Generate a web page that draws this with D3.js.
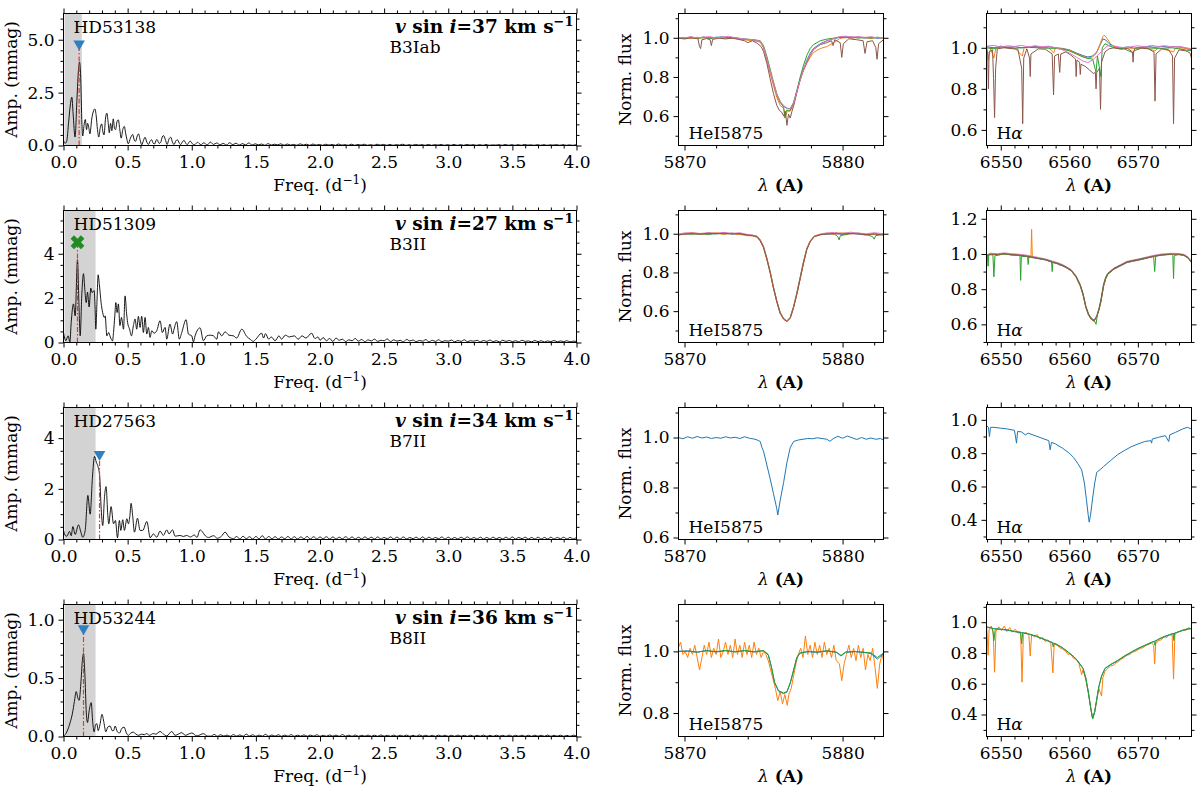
<!DOCTYPE html>
<html>
<head>
<meta charset="utf-8">
<script src="https://cdn.jsdelivr.net/npm/d3@7"></script>
<style>
body { margin: 0; background: #fff; }
svg text { font-family: "DejaVu Serif", serif; font-size: 17px; fill: #000; }
</style>
</head>
<body>
<script>
// ---------------- periodograms: [freq (1/d), amplitude (mmag)] ----------------
const pg53138 = [
  [0.000,0.25],[0.012,0.10],[0.025,0.20],[0.040,1.10],[0.055,2.00],[0.065,2.29],[0.075,1.50],[0.090,0.40],
  [0.105,2.20],[0.117,3.60],[0.125,3.94],[0.133,3.40],[0.144,1.00],[0.150,0.45],[0.160,0.95],[0.170,1.23],
  [0.180,0.75],[0.188,1.05],[0.197,0.85],[0.206,0.55],[0.220,1.25],[0.235,1.65],[0.245,1.73],[0.255,1.40],
  [0.265,0.75],[0.275,0.40],[0.287,0.85],[0.298,1.02],[0.307,0.65],[0.316,0.50],[0.328,1.30],[0.338,1.53],
  [0.348,1.10],[0.357,0.60],[0.367,1.05],[0.377,0.70],[0.388,1.26],[0.398,0.80],[0.406,0.75],[0.418,1.15],
  [0.428,1.21],[0.438,0.80],[0.450,0.35],[0.462,0.75],[0.474,0.90],[0.484,0.60],[0.494,0.30],[0.505,0.08],
  [0.522,0.35],[0.540,0.52],[0.552,0.25],[0.562,0.20],[0.575,0.45],[0.585,0.55],[0.598,0.25],[0.610,0.03],
  [0.624,0.25],[0.636,0.39],[0.650,0.15],[0.662,0.05],[0.675,0.20],[0.688,0.27],[0.700,0.10],[0.712,0.08],
  [0.722,0.25],[0.730,0.28],[0.745,0.10],[0.758,0.15],[0.770,0.40],[0.780,0.47],[0.793,0.30],[0.808,0.05],
  [0.822,0.30],[0.836,0.39],[0.850,0.15],[0.862,0.05],[0.876,0.22],[0.888,0.27],[0.902,0.12],[0.914,0.04],
  [0.928,0.18],[0.940,0.24],[0.954,0.10],[0.966,0.04],[0.978,0.16],[0.990,0.20],[1.005,0.08]
];
// tail amplitudes sampled every 0.025 1/d from 1.02
const tail53138 = [
  0.03,0.15,0.04,0.13,0.02,0.16,0.05,0.12,0.03,0.10,0.02,0.13,0.04,0.11,0.02,0.09,0.03,0.12,0.02,0.08,
  0.03,0.07,0.01,0.09,0.02,0.06,0.03,0.08,0.01,0.07,0.02,0.05,0.01,0.08,0.02,0.06,0.01,0.07,0.02,0.05,
  0.01,0.06,0.02,0.05,0.01,0.07,0.02,0.04,0.01,0.06,0.01,0.05,0.02,0.06,0.01,0.04,0.01,0.06,0.02,0.05,
  0.01,0.05,0.01,0.04,0.02,0.06,0.01,0.04,0.01,0.05,0.02,0.04,0.01,0.05,0.01,0.04,0.02,0.05,0.01,0.04,
  0.01,0.05,0.01,0.04,0.01,0.05,0.02,0.04,0.01,0.04,0.01,0.05,0.01,0.03,0.02,0.04,0.01,0.05,0.01,0.04,
  0.01,0.04,0.01,0.05,0.02,0.03,0.01,0.04,0.01,0.04,0.01,0.03,0.02,0.04,0.01,0.04,0.01,0.03,0.01,0.04
];

const pg51309 = [
  [0.000,0.45],[0.018,0.08],[0.036,0.30],[0.050,0.03],[0.060,0.90],[0.078,1.74],[0.091,1.20],[0.109,3.73],
  [0.120,1.80],[0.130,0.30],[0.143,2.20],[0.156,3.10],[0.166,2.40],[0.177,1.80],[0.187,2.27],[0.200,1.60],
  [0.213,2.45],[0.223,2.25],[0.239,2.34],[0.246,1.60],[0.252,0.60],[0.262,2.00],[0.270,3.05],[0.280,2.60],
  [0.293,1.80],[0.305,1.36],[0.318,1.13],[0.325,1.20],[0.338,0.30],[0.352,0.45],[0.365,0.25],[0.382,0.07],
  [0.390,0.45],[0.400,1.20],[0.408,1.80],[0.418,1.35],[0.428,1.74],[0.440,0.76],[0.452,1.13],[0.468,0.60],
  [0.480,2.10],[0.492,1.30],[0.500,0.90],[0.515,0.60],[0.530,0.30],[0.545,0.76],[0.558,1.06],[0.571,0.60],
  [0.584,1.18],[0.597,0.68],[0.610,1.18],[0.623,0.45],[0.636,1.13],[0.649,0.38],[0.662,0.68],[0.675,0.23],
  [0.688,0.53],[0.706,0.42],[0.727,0.53],[0.753,0.98],[0.771,0.45],[0.792,0.68],[0.805,0.15],[0.830,0.83],
  [0.851,0.38],[0.862,0.60],[0.883,0.94],[0.903,0.15],[0.922,0.45],[0.956,1.03],[0.974,0.38],[1.000,0.30],
  [1.013,0.03],[1.026,0.30],[1.065,0.66],[1.091,0.08],[1.117,0.30],[1.143,0.33],[1.170,0.30],[1.195,0.15],
  [1.208,0.48],[1.234,0.30],[1.260,0.48],[1.290,0.33],[1.325,0.30],[1.350,0.20],[1.390,0.60],[1.429,0.27],
  [1.455,0.15],[1.480,0.05],[1.500,0.15],[1.545,0.42],[1.560,0.20],[1.575,0.40],[1.600,0.15],[1.620,0.25],
  [1.650,0.08],[1.680,0.30],[1.700,0.15],[1.730,0.33],[1.760,0.25],[1.800,0.30],[1.830,0.15],[1.860,0.30],
  [1.890,0.20],[1.935,0.42],[1.960,0.18],[1.985,0.25]
];
const tail51309 = [
  0.10,0.22,0.08,0.18,0.05,0.20,0.10,0.15,0.04,0.12,0.08,0.18,0.06,0.14,0.03,0.12,0.07,0.15,0.05,0.10,
  0.08,0.16,0.04,0.12,0.06,0.10,0.03,0.14,0.07,0.11,0.04,0.09,0.06,0.13,0.03,0.10,0.05,0.12,0.04,0.08,
  0.06,0.11,0.03,0.09,0.05,0.12,0.04,0.08,0.06,0.10,0.03,0.09,0.05,0.11,0.04,0.08,0.03,0.10,0.05,0.09,
  0.04,0.08,0.03,0.10,0.05,0.07,0.03,0.09,0.04,0.08,0.02,0.07,0.04,0.09,0.03,0.07,0.04,0.08,0.03,0.06,0.05
];

const pg27563 = [
  [0.000,0.36],[0.015,0.15],[0.026,0.13],[0.047,0.32],[0.060,0.15],[0.073,0.51],[0.091,0.20],[0.117,0.58],
  [0.135,0.30],[0.150,0.09],[0.169,0.35],[0.190,1.74],[0.208,1.00],[0.225,2.40],[0.242,3.28],[0.256,3.05],
  [0.270,2.86],[0.282,2.50],[0.294,1.20],[0.306,0.55],[0.320,1.70],[0.332,2.09],[0.345,1.00],[0.353,0.62],
  [0.371,1.30],[0.390,0.62],[0.405,0.75],[0.421,0.07],[0.436,0.75],[0.447,0.36],[0.462,0.78],[0.475,0.36],
  [0.494,0.82],[0.506,0.62],[0.517,0.90],[0.527,1.43],[0.540,0.90],[0.553,0.29],[0.577,0.84],[0.597,0.36],
  [0.618,0.36],[0.650,0.71],[0.676,0.07],[0.701,0.22],[0.727,0.09],[0.753,0.33],[0.779,0.16],[0.805,0.38],
  [0.823,0.22],[0.850,0.38],[0.870,0.13],[0.909,0.16],[0.935,0.12],[0.960,0.16],[0.990,0.10],[1.020,0.18],
  [1.040,0.08],[1.065,0.38],[1.085,0.29],[1.100,0.18],[1.130,0.08],[1.170,0.15],[1.200,0.05],[1.230,0.12],
  [1.260,0.29],[1.290,0.10],[1.310,0.05]
];
const tail27563 = [
  0.03,0.12,0.02,0.13,0.03,0.11,0.02,0.12,0.03,0.15,0.02,0.12,0.03,0.11,0.02,0.10,0.03,0.12,0.02,0.11,
  0.02,0.10,0.03,0.12,0.02,0.11,0.02,0.10,0.03,0.11,0.02,0.10,0.02,0.09,0.03,0.11,0.02,0.10,0.02,0.09,
  0.02,0.10,0.03,0.09,0.02,0.10,0.02,0.08,0.03,0.10,0.02,0.09,0.02,0.10,0.02,0.08,0.03,0.09,0.02,0.10,
  0.02,0.09,0.02,0.08,0.03,0.10,0.02,0.09,0.02,0.08,0.02,0.09,0.03,0.10,0.02,0.08,0.02,0.09,0.02,0.08,
  0.02,0.09,0.03,0.08,0.02,0.09,0.02,0.10,0.02,0.08,0.03,0.09,0.02,0.08,0.02,0.09,0.02,0.08,0.02,0.09,
  0.02,0.08,0.03,0.09,0.02,0.08,0.02,0.09
];

const pg53244 = [
  [0.000,0.000],[0.026,0.040],[0.052,0.120],[0.070,0.200],[0.085,0.300],[0.099,0.385],[0.112,0.330],[0.122,0.310],
  [0.135,0.450],[0.147,0.650],[0.156,0.710],[0.166,0.550],[0.178,0.200],[0.187,0.120],[0.200,0.220],[0.216,0.290],
  [0.228,0.120],[0.239,0.040],[0.250,0.100],[0.260,0.110],[0.270,0.050],[0.284,0.100],[0.300,0.190],[0.315,0.120],
  [0.330,0.040],[0.345,0.080],[0.364,0.090],[0.380,0.050],[0.390,0.050],[0.403,0.090],[0.420,0.040],[0.437,0.030],
  [0.455,0.070],[0.473,0.080],[0.490,0.030],[0.506,0.010],[0.525,0.030],[0.545,0.037],[0.565,0.020],[0.585,0.010],
  [0.610,0.020],[0.630,0.015],[0.649,0.025],[0.670,0.010],[0.700,0.025],[0.720,0.020],[0.753,0.043],[0.780,0.020],
  [0.805,0.005],[0.844,0.043],[0.870,0.010],[0.895,0.020],[0.922,0.033],[0.950,0.010],[0.975,0.020],[1.000,0.030],
  [1.040,0.005],[1.090,0.024],[1.125,0.003]
];
const tail53244 = [
  0.003,0.018,0.002,0.015,0.004,0.012,0.002,0.016,0.003,0.014,0.002,0.020,0.003,0.015,0.002,0.012,0.003,0.018,0.002,0.013,
  0.003,0.015,0.002,0.012,0.003,0.016,0.002,0.011,0.003,0.014,0.002,0.012,0.003,0.015,0.002,0.010,0.002,0.013,0.003,0.012,
  0.002,0.016,0.003,0.011,0.002,0.013,0.002,0.010,0.003,0.012,0.002,0.011,0.002,0.013,0.003,0.010,0.002,0.012,0.002,0.011,
  0.003,0.012,0.002,0.010,0.002,0.013,0.003,0.011,0.002,0.010,0.002,0.012,0.003,0.011,0.002,0.010,0.002,0.012,0.003,0.010,
  0.002,0.011,0.002,0.010,0.003,0.012,0.002,0.010,0.002,0.011,0.003,0.010,0.002,0.012,0.002,0.010,0.003,0.011,0.002,0.010,
  0.002,0.011,0.003,0.010,0.002,0.012,0.002,0.010,0.003,0.011,0.002,0.010,0.002,0.011,0.003
];

const stars = ["HD53138", "HD51309", "HD27563", "HD53244"];
const vsini = [37, 27, 34, 36];
const spTypes = ["B3Iab", "B3II", "B7II", "B8II"];
const peakFreq = [0.122, 0.109, 0.281, 0.156];
const markAmp = [4.81, 4.52, 3.36, 0.923];
const shadeEnd = [0.143, 0.25, 0.25, 0.25];

// ---------------- spectra: [wavelength (A), normalised flux] ----------------
const he1Blue = [[5869.62,1.0],[5870.0,0.996],[5870.4,1.003],[5870.8,0.997],[5871.2,1.004],[5871.6,0.996],[5872.0,1.002],[5872.4,1.005],[5872.8,0.997],[5873.2,1.001],[5873.6,0.994],[5874.0,0.99],[5874.4,0.988],[5874.79,0.982],[5875.0,0.95],[5875.21,0.89],[5875.42,0.825],[5875.63,0.765],[5875.84,0.705],[5876.05,0.67],[5876.27,0.65],[5876.48,0.64],[5876.69,0.638],[5876.9,0.67],[5877.11,0.73],[5877.32,0.79],[5877.53,0.84],[5877.74,0.885],[5877.95,0.92],[5878.16,0.945],[5878.59,0.97],[5879.0,0.985],[5879.43,0.995],[5879.8,1.002],[5880.2,1.006],[5880.6,1.0],[5881.0,1.004],[5881.4,0.998],[5881.8,1.003],[5882.2,0.997],[5882.59,1.0]];
const he1Orange = [[5869.62,0.998],[5870.0,1.002],[5870.4,0.996],[5870.8,1.003],[5871.2,0.998],[5871.6,1.002],[5872.0,0.997],[5872.4,1.003],[5872.8,1.0],[5873.2,0.996],[5873.6,0.992],[5874.0,0.988],[5874.4,0.985],[5874.79,0.978],[5875.0,0.948],[5875.21,0.885],[5875.42,0.82],[5875.63,0.755],[5875.84,0.695],[5876.05,0.655],[5876.27,0.64],[5876.4,0.60],[5876.5,0.625],[5876.69,0.625],[5876.9,0.66],[5877.11,0.725],[5877.32,0.79],[5877.53,0.835],[5877.74,0.87],[5877.95,0.9],[5878.16,0.925],[5878.59,0.945],[5879.0,0.955],[5879.43,0.975],[5879.8,0.995],[5880.2,1.004],[5880.6,0.998],[5881.0,1.003],[5881.4,1.0],[5881.8,0.997],[5882.2,1.002],[5882.59,0.998]];
const he1Green = [[5869.62,1.0],[5870.0,0.998],[5870.4,1.004],[5870.8,0.996],[5871.2,1.002],[5871.6,0.998],[5872.0,1.003],[5872.4,0.997],[5872.8,1.002],[5873.2,0.998],[5873.6,0.996],[5874.0,0.993],[5874.4,0.99],[5874.79,0.985],[5875.0,0.96],[5875.21,0.905],[5875.42,0.84],[5875.63,0.775],[5875.84,0.715],[5876.05,0.675],[5876.27,0.645],[5876.35,0.59],[5876.45,0.63],[5876.69,0.63],[5876.9,0.665],[5877.11,0.73],[5877.32,0.8],[5877.53,0.86],[5877.74,0.91],[5877.95,0.945],[5878.16,0.965],[5878.59,0.985],[5879.0,0.993],[5879.43,0.998],[5879.8,1.003],[5880.2,1.0],[5880.6,1.004],[5881.0,0.998],[5881.4,1.002],[5881.8,0.998],[5882.2,1.003],[5882.59,0.999]];
const he1Pink = [[5869.62,1.002],[5870.0,1.0],[5870.4,1.005],[5870.8,1.0],[5871.2,1.003],[5871.6,1.006],[5872.0,0.999],[5872.4,1.003],[5872.8,1.008],[5873.2,1.0],[5873.6,0.996],[5874.0,0.992],[5874.4,0.989],[5874.79,0.983],[5875.0,0.952],[5875.21,0.893],[5875.42,0.83],[5875.63,0.77],[5875.84,0.71],[5876.05,0.675],[5876.27,0.655],[5876.48,0.64],[5876.69,0.637],[5876.9,0.665],[5877.11,0.725],[5877.32,0.785],[5877.53,0.838],[5877.74,0.88],[5877.95,0.915],[5878.16,0.94],[5878.59,0.967],[5879.0,0.983],[5879.43,0.996],[5879.8,1.006],[5880.2,1.008],[5880.6,1.004],[5881.0,1.006],[5881.4,1.002],[5881.8,1.005],[5882.2,1.0],[5882.59,1.002]];
const he1Brown = [[5869.62,0.998],[5870.0,0.994],[5870.4,1.0],[5870.85,0.995],[5870.95,0.955],[5871.02,0.945],[5871.1,0.99],[5871.4,0.996],[5871.62,0.99],[5871.7,0.96],[5871.78,0.992],[5872.2,0.998],[5872.6,0.994],[5873.0,0.999],[5873.4,0.992],[5873.8,0.985],[5874.0,0.975],[5874.3,0.985],[5874.6,0.972],[5874.85,0.955],[5875.0,0.93],[5875.21,0.87],[5875.42,0.79],[5875.63,0.715],[5875.84,0.655],[5876.0,0.63],[5876.15,0.62],[5876.27,0.60],[5876.38,0.625],[5876.48,0.553],[5876.58,0.61],[5876.69,0.59],[5876.8,0.625],[5876.9,0.65],[5877.11,0.72],[5877.32,0.785],[5877.53,0.835],[5877.74,0.875],[5877.95,0.91],[5878.16,0.94],[5878.59,0.965],[5879.0,0.975],[5879.3,0.985],[5879.4,0.96],[5879.5,0.99],[5879.85,0.975],[5879.95,0.9],[5880.05,0.97],[5880.4,0.995],[5880.9,0.99],[5881.3,0.985],[5881.42,0.92],[5881.55,0.98],[5881.9,0.985],[5882.1,0.95],[5882.18,0.89],[5882.28,0.97],[5882.59,0.99]];

const ha1Blue = [[6547.92,1.005],[6549,1.0],[6550,1.008],[6551,1.003],[6552,1.006],[6553,1.0],[6554,1.004],[6555,1.007],[6556,1.002],[6557,1.005],[6558,1.0],[6559,0.997],[6560,0.99],[6561,0.975],[6562,0.962],[6562.7,0.955],[6563.4,0.96],[6564,0.98],[6564.5,1.015],[6564.9,1.043],[6565.3,1.038],[6565.8,1.02],[6566.5,1.006],[6567.5,1.0],[6568.5,1.004],[6569.5,0.998],[6570.5,1.003],[6571.5,1.006],[6572.5,1.002],[6573.5,1.007],[6574.5,1.003],[6575.5,1.006],[6576.5,1.002],[6577.82,0.99]];
const ha1Orange = [[6547.92,1.0],[6548.2,0.94],[6548.5,0.998],[6549.0,0.95],[6549.3,1.0],[6550.5,1.004],[6552,1.0],[6553.15,0.96],[6553.4,1.0],[6555,1.003],[6557,1.0],[6557.7,0.975],[6558,1.0],[6559,0.995],[6560,0.988],[6561,0.972],[6562,0.958],[6562.7,0.95],[6563.4,0.955],[6564,0.975],[6564.5,1.02],[6564.9,1.055],[6565.1,1.062],[6565.5,1.045],[6566,1.02],[6566.7,1.003],[6568,1.0],[6569.5,0.997],[6571,1.002],[6572.5,0.985],[6573,1.0],[6575.2,0.98],[6575.5,1.0],[6577,0.998],[6577.82,0.985]];
const ha1Green = [[6547.92,1.0],[6549,0.995],[6550,1.003],[6552,0.998],[6554,1.002],[6556,0.999],[6558,0.997],[6559,0.993],[6560,0.985],[6561,0.97],[6562,0.955],[6562.7,0.948],[6563.4,0.945],[6563.9,0.88],[6564.1,0.96],[6564.6,0.86],[6564.8,1.0],[6565.2,1.02],[6565.7,1.012],[6566.5,1.0],[6568,0.995],[6569.3,0.975],[6569.6,0.998],[6571,1.0],[6573,0.997],[6575,1.0],[6577.82,0.985]];
const ha1Pink = [[6547.92,1.008],[6549,1.012],[6550,1.003],[6551,1.01],[6552,1.006],[6553,1.012],[6554,1.004],[6555,1.01],[6556,1.005],[6557,1.008],[6558,1.0],[6559,0.99],[6560,0.975],[6561,0.955],[6562,0.935],[6562.7,0.928],[6563.4,0.94],[6564,0.96],[6564.8,0.985],[6565.5,1.008],[6566.2,1.012],[6567,1.005],[6568,1.0],[6569,1.005],[6570,1.01],[6571,1.004],[6572,1.012],[6573,1.006],[6574,1.01],[6575,1.004],[6576,1.007],[6577.82,0.995]];
const ha1Brown = [[6547.92,1.0],[6548.1,0.97],[6548.2,0.80],[6548.3,0.98],[6548.8,0.99],[6548.95,0.85],[6549.1,0.66],[6549.25,0.9],[6549.5,0.995],[6550.5,1.0],[6551.5,0.996],[6552.5,0.993],[6553.05,0.9],[6553.2,0.63],[6553.35,0.95],[6553.8,0.995],[6554.2,0.95],[6554.3,0.86],[6554.4,0.97],[6555.5,0.995],[6556.5,0.993],[6557.5,0.97],[6557.7,0.77],[6557.85,0.96],[6558.4,0.97],[6558.6,0.88],[6558.75,0.97],[6559.5,0.98],[6560.2,0.965],[6560.9,0.945],[6561.0,0.86],[6561.1,0.94],[6561.5,0.93],[6561.6,0.87],[6561.7,0.92],[6562.3,0.91],[6563.0,0.89],[6563.5,0.875],[6563.8,0.88],[6563.9,0.80],[6564.0,0.88],[6564.4,0.9],[6564.55,0.70],[6564.7,0.93],[6565.2,0.98],[6565.8,0.995],[6566.5,1.0],[6567.5,0.993],[6568.5,0.997],[6569.2,0.98],[6569.3,0.93],[6569.4,0.985],[6570.5,0.998],[6571.5,0.995],[6572.35,0.98],[6572.5,0.74],[6572.65,0.97],[6573.5,0.995],[6574.5,0.99],[6575.05,0.96],[6575.2,0.63],[6575.35,0.95],[6576,0.99],[6577,0.985],[6577.6,0.975],[6577.82,0.95]];

const he2Blue = [[5869.62,0.995],[5870.0,0.998],[5870.5,1.002],[5871.0,0.996],[5871.5,1.003],[5872.0,0.999],[5872.5,1.004],[5873.0,0.998],[5873.5,1.001],[5874.0,0.992],[5874.3,0.99],[5874.58,0.985],[5874.79,0.965],[5875.0,0.93],[5875.21,0.87],[5875.42,0.80],[5875.63,0.72],[5875.84,0.65],[5876.05,0.59],[5876.27,0.56],[5876.48,0.548],[5876.69,0.565],[5876.9,0.62],[5877.11,0.69],[5877.32,0.77],[5877.53,0.85],[5877.74,0.92],[5877.95,0.96],[5878.2,0.985],[5878.6,0.995],[5879.0,0.998],[5879.5,1.002],[5880.0,0.997],[5880.5,1.003],[5881.0,0.998],[5881.5,0.993],[5882.0,1.0],[5882.59,0.995]];
const he2Green = [[5869.62,0.996],[5870.0,1.0],[5870.5,0.997],[5871.0,1.002],[5871.5,0.995],[5872.0,1.002],[5872.5,0.998],[5873.0,1.003],[5873.5,0.997],[5874.0,0.994],[5874.3,0.992],[5874.58,0.988],[5874.79,0.97],[5875.0,0.935],[5875.21,0.875],[5875.42,0.805],[5875.63,0.725],[5875.84,0.655],[5876.05,0.595],[5876.27,0.562],[5876.48,0.55],[5876.69,0.568],[5876.9,0.625],[5877.11,0.697],[5877.32,0.778],[5877.53,0.857],[5877.74,0.925],[5877.95,0.963],[5878.2,0.987],[5878.6,0.996],[5879.0,1.0],[5879.5,0.998],[5879.7,0.985],[5879.78,0.968],[5879.86,0.99],[5880.5,1.0],[5881.0,1.003],[5881.5,0.996],[5881.9,0.985],[5882.0,0.972],[5882.1,0.99],[5882.59,0.997]];
const he2Pink = [[5869.62,0.998],[5870.0,1.004],[5870.5,1.006],[5871.0,1.001],[5871.5,1.006],[5872.0,1.003],[5872.5,1.007],[5873.0,1.002],[5873.5,1.005],[5874.0,0.996],[5874.3,0.993],[5874.58,0.987],[5874.79,0.967],[5875.0,0.932],[5875.21,0.872],[5875.42,0.802],[5875.63,0.722],[5875.84,0.652],[5876.05,0.592],[5876.27,0.562],[5876.48,0.55],[5876.69,0.567],[5876.9,0.622],[5877.11,0.692],[5877.32,0.772],[5877.53,0.852],[5877.74,0.922],[5877.95,0.962],[5878.2,0.988],[5878.6,0.999],[5879.0,1.004],[5879.5,1.007],[5880.0,1.002],[5880.5,1.008],[5881.0,1.003],[5881.5,1.0],[5882.0,1.005],[5882.59,1.0]];
const he2Orange = [[5869.62,0.993],[5870.0,0.999],[5870.5,1.004],[5871.0,0.997],[5871.5,1.001],[5872.0,1.004],[5872.5,0.998],[5873.0,1.002],[5873.5,0.996],[5874.0,0.99],[5874.3,0.989],[5874.58,0.983],[5874.79,0.962],[5875.0,0.927],[5875.21,0.867],[5875.42,0.797],[5875.63,0.717],[5875.84,0.647],[5876.05,0.588],[5876.27,0.558],[5876.48,0.547],[5876.69,0.563],[5876.9,0.618],[5877.11,0.688],[5877.32,0.768],[5877.53,0.848],[5877.74,0.918],[5877.95,0.958],[5878.2,0.984],[5878.6,0.996],[5879.0,1.002],[5879.5,0.998],[5880.0,1.004],[5880.5,0.999],[5881.0,1.002],[5881.5,0.995],[5882.0,0.998],[5882.59,0.993]];
const he2Brown = [[5869.62,0.994],[5870.0,0.998],[5870.5,1.001],[5871.0,0.998],[5871.5,1.002],[5872.0,1.0],[5872.5,1.002],[5873.0,0.999],[5873.5,1.0],[5874.0,0.993],[5874.3,0.99],[5874.58,0.984],[5874.79,0.964],[5875.0,0.929],[5875.21,0.869],[5875.42,0.799],[5875.63,0.719],[5875.84,0.649],[5876.05,0.589],[5876.27,0.559],[5876.48,0.546],[5876.69,0.564],[5876.9,0.619],[5877.11,0.689],[5877.32,0.769],[5877.53,0.849],[5877.74,0.919],[5877.95,0.959],[5878.2,0.985],[5878.6,0.995],[5879.0,0.999],[5879.5,1.0],[5880.0,0.999],[5880.5,1.001],[5881.0,0.999],[5881.5,0.996],[5882.0,0.998],[5882.59,0.994]];

const ha2Blue = [[6547.92,0.99],[6548.5,0.998],[6549.5,0.995],[6550.5,1.0],[6551.5,0.995],[6552.5,0.992],[6553.5,0.988],[6554.5,0.98],[6555.5,0.973],[6556.5,0.966],[6557.5,0.953],[6558.5,0.941],[6559.5,0.923],[6560.3,0.903],[6561.0,0.868],[6561.6,0.818],[6562.0,0.768],[6562.4,0.698],[6562.8,0.653],[6563.2,0.628],[6563.6,0.618],[6564.0,0.643],[6564.3,0.678],[6564.6,0.728],[6565.0,0.818],[6565.3,0.858],[6565.6,0.884],[6566.5,0.913],[6567.5,0.933],[6568.4,0.951],[6569.2,0.958],[6570,0.964],[6571,0.973],[6572.3,0.986],[6573.5,0.993],[6574.9,0.998],[6576,0.996],[6576.7,0.992],[6577.3,0.978],[6577.82,0.953]];
const ha2Pink = [[6547.92,0.995],[6548.5,1.004],[6549.5,1.002],[6550.5,1.006],[6551.5,1.002],[6552.5,0.999],[6553.5,0.995],[6554.5,0.988],[6555.5,0.98],[6556.5,0.972],[6557.5,0.96],[6558.5,0.948],[6559.5,0.93],[6560.3,0.91],[6561.0,0.875],[6561.6,0.825],[6562.0,0.775],[6562.4,0.705],[6562.8,0.66],[6563.2,0.635],[6563.6,0.625],[6564.0,0.65],[6564.3,0.685],[6564.6,0.735],[6565.0,0.825],[6565.3,0.865],[6565.6,0.89],[6566.5,0.92],[6567.5,0.94],[6568.4,0.958],[6569.2,0.965],[6570,0.971],[6571,0.98],[6572.3,0.992],[6573.5,1.0],[6574.9,1.004],[6576,1.002],[6576.7,0.998],[6577.3,0.984],[6577.82,0.958]];
const ha2Orange = [[6547.92,0.988],[6548.5,0.998],[6549.5,0.996],[6550.5,1.0],[6551.5,0.996],[6552.5,0.993],[6553.5,0.989],[6554.4,0.984],[6554.5,1.14],[6554.6,0.983],[6555.5,0.974],[6556.5,0.967],[6557.5,0.954],[6558.5,0.942],[6559.5,0.924],[6560.3,0.904],[6561.0,0.869],[6561.6,0.819],[6562.0,0.769],[6562.4,0.699],[6562.8,0.654],[6563.2,0.629],[6563.6,0.619],[6564.0,0.644],[6564.3,0.679],[6564.6,0.729],[6565.0,0.819],[6565.3,0.859],[6565.6,0.885],[6566.5,0.914],[6567.5,0.934],[6568.4,0.952],[6569.2,0.959],[6570,0.965],[6571,0.974],[6572.3,0.987],[6573.5,0.994],[6574.9,0.999],[6576,0.997],[6576.7,0.993],[6577.3,0.979],[6577.82,0.954]];
const ha2Green = [[6547.92,0.985],[6548.05,0.99],[6548.15,0.93],[6548.25,0.995],[6548.85,0.995],[6549.0,0.87],[6549.15,0.99],[6550.5,1.0],[6551.5,0.995],[6552.5,0.993],[6552.8,0.99],[6552.9,0.85],[6553.0,0.985],[6553.9,0.988],[6554.0,0.94],[6554.1,0.985],[6555.5,0.976],[6556.5,0.968],[6557.4,0.958],[6557.5,0.90],[6557.6,0.955],[6558.5,0.944],[6558.6,0.935],[6558.7,0.943],[6559.5,0.926],[6560.3,0.907],[6561.0,0.873],[6561.6,0.825],[6562.0,0.775],[6562.4,0.705],[6562.8,0.66],[6563.2,0.635],[6563.6,0.625],[6563.9,0.60],[6564.1,0.66],[6564.3,0.685],[6564.6,0.74],[6565.0,0.83],[6565.3,0.868],[6565.6,0.89],[6566.5,0.918],[6567.5,0.937],[6568.4,0.955],[6569.2,0.962],[6570,0.968],[6571,0.977],[6572.3,0.985],[6572.45,0.90],[6572.6,0.988],[6573.5,0.996],[6574.9,0.998],[6575.1,0.99],[6575.2,0.86],[6575.3,0.99],[6576,0.998],[6576.7,0.993],[6577.3,0.978],[6577.82,0.95]];
const ha2Brown = [[6547.92,0.99],[6548.5,1.0],[6549.5,0.997],[6550.5,1.002],[6551.5,0.997],[6552.5,0.994],[6553.5,0.99],[6554.5,0.982],[6555.5,0.975],[6556.5,0.968],[6557.5,0.955],[6558.5,0.943],[6559.5,0.925],[6560.3,0.905],[6561.0,0.87],[6561.6,0.82],[6562.0,0.77],[6562.4,0.70],[6562.8,0.655],[6563.2,0.63],[6563.6,0.62],[6564.0,0.645],[6564.3,0.68],[6564.6,0.73],[6565.0,0.82],[6565.3,0.86],[6565.6,0.886],[6566.5,0.915],[6567.5,0.935],[6568.4,0.953],[6569.2,0.96],[6570,0.966],[6571,0.975],[6572.3,0.988],[6573.5,0.995],[6574.9,1.0],[6576,0.998],[6576.7,0.994],[6577.3,0.98],[6577.82,0.955]];

const he3Blue = [[5869.62,1.0],[5869.9,0.995],[5870.2,1.003],[5870.5,0.997],[5870.8,1.004],[5871.1,0.998],[5871.4,1.002],[5871.7,0.996],[5872.0,1.0],[5872.3,0.997],[5872.6,1.003],[5872.9,0.998],[5873.2,1.001],[5873.5,0.996],[5873.8,1.003],[5874.1,0.997],[5874.4,0.994],[5874.6,0.99],[5874.79,0.984],[5874.9,0.96],[5875.0,0.945],[5875.21,0.89],[5875.42,0.835],[5875.63,0.775],[5875.84,0.715],[5875.9,0.69],[5876.05,0.747],[5876.27,0.82],[5876.48,0.90],[5876.69,0.96],[5876.9,0.984],[5877.2,0.99],[5877.5,0.993],[5877.8,0.996],[5878.1,0.995],[5878.4,0.999],[5878.7,0.996],[5879.0,0.993],[5879.2,0.985],[5879.4,0.995],[5879.7,1.005],[5880.0,0.997],[5880.3,1.006],[5880.6,0.999],[5880.9,0.992],[5881.2,1.0],[5881.5,0.993],[5881.8,0.998],[5882.1,0.993],[5882.4,0.996],[5882.59,0.99]];
const ha3Blue = [[6547.92,0.965],[6548.2,0.955],[6548.35,0.90],[6548.5,0.955],[6549,0.955],[6550,0.95],[6551,0.945],[6552,0.937],[6552.3,0.86],[6552.45,0.93],[6553,0.928],[6553.6,0.91],[6554,0.92],[6555,0.905],[6556,0.89],[6557,0.875],[6557.2,0.82],[6557.4,0.865],[6558,0.855],[6559,0.83],[6560,0.80],[6560.6,0.775],[6561.2,0.74],[6561.8,0.70],[6562.2,0.62],[6562.5,0.52],[6562.75,0.43],[6562.9,0.386],[6563.1,0.43],[6563.4,0.53],[6563.7,0.62],[6564.0,0.685],[6564.6,0.705],[6565,0.72],[6566,0.755],[6567,0.79],[6568,0.815],[6569,0.838],[6570,0.855],[6571,0.87],[6571.9,0.875],[6572.0,0.86],[6572.1,0.885],[6573,0.895],[6574,0.905],[6574.5,0.87],[6574.65,0.91],[6575.5,0.925],[6576.5,0.945],[6577.2,0.955],[6577.82,0.945]];

const he4Orange = [[5869.6,1.01],[5869.75,1.03],[5869.9,0.99],[5870.05,1.0],[5870.2,0.98],[5870.35,1.01],[5870.5,0.99],[5870.65,1.02],[5870.8,0.98],[5870.95,0.94],[5871.1,0.98],[5871.25,1.02],[5871.4,0.99],[5871.55,1.03],[5871.7,0.98],[5871.85,1.01],[5872.0,0.99],[5872.15,1.04],[5872.3,0.98],[5872.45,1.0],[5872.6,1.03],[5872.75,0.99],[5872.9,1.02],[5873.05,0.98],[5873.2,1.04],[5873.35,0.99],[5873.5,1.02],[5873.65,0.98],[5873.8,1.03],[5873.95,0.99],[5874.1,1.02],[5874.25,0.98],[5874.4,1.03],[5874.55,0.99],[5874.7,1.01],[5874.85,0.98],[5875.0,1.0],[5875.15,0.99],[5875.3,0.97],[5875.45,0.94],[5875.6,0.91],[5875.75,0.88],[5875.9,0.84],[5876.05,0.87],[5876.2,0.83],[5876.35,0.86],[5876.5,0.825],[5876.6,0.86],[5876.75,0.88],[5876.9,0.92],[5877.05,0.96],[5877.2,0.99],[5877.35,1.01],[5877.5,0.98],[5877.65,1.05],[5877.8,0.99],[5877.95,1.02],[5878.1,0.98],[5878.25,1.03],[5878.4,0.99],[5878.55,1.02],[5878.7,0.98],[5878.85,1.03],[5879.0,0.99],[5879.15,1.01],[5879.3,0.98],[5879.45,1.02],[5879.6,0.97],[5879.8,0.96],[5879.95,0.905],[5880.1,0.96],[5880.25,0.99],[5880.4,1.02],[5880.55,0.98],[5880.7,1.01],[5880.85,0.97],[5881.0,1.02],[5881.15,0.98],[5881.3,1.01],[5881.45,0.94],[5881.6,0.99],[5881.75,0.97],[5881.9,1.01],[5882.05,0.95],[5882.2,0.88],[5882.35,0.96],[5882.5,0.99],[5882.6,0.97]];
const he4Blue = [[5869.62,1.0],[5870.2,1.002],[5870.8,0.997],[5871.4,1.003],[5872.0,0.998],[5872.6,1.002],[5873.2,0.999],[5873.8,1.002],[5874.4,0.998],[5875.0,1.002],[5875.3,0.988],[5875.5,0.948],[5875.7,0.898],[5875.95,0.871],[5876.27,0.863],[5876.48,0.868],[5876.7,0.898],[5876.9,0.938],[5877.1,0.978],[5877.3,0.994],[5877.8,0.999],[5878.4,0.997],[5879.0,1.001],[5879.6,0.997],[5879.9,0.985],[5880.2,0.997],[5880.8,0.999],[5881.4,0.996],[5881.8,0.993],[5882.2,0.975],[5882.59,0.993]];
const he4Green = [[5869.62,1.0],[5870.2,1.0],[5870.8,0.998],[5871.4,1.002],[5872.0,0.999],[5872.6,1.003],[5873.2,0.998],[5873.8,1.003],[5874.4,0.999],[5875.0,1.003],[5875.3,0.99],[5875.5,0.95],[5875.7,0.9],[5875.95,0.873],[5876.27,0.865],[5876.48,0.87],[5876.7,0.9],[5876.9,0.94],[5877.1,0.98],[5877.3,0.995],[5877.8,1.0],[5878.4,0.998],[5879.0,1.002],[5879.6,0.998],[5879.9,0.987],[5880.2,0.998],[5880.8,1.0],[5881.4,0.997],[5881.8,0.995],[5882.2,0.98],[5882.59,0.995]];

const ha4Orange = [[6547.92,0.97],[6548.0,0.94],[6548.15,0.785],[6548.3,0.95],[6548.6,0.975],[6548.9,0.93],[6549.1,0.675],[6549.3,0.94],[6549.7,0.97],[6550.1,0.945],[6550.5,0.975],[6550.9,0.94],[6551.3,0.965],[6551.7,0.935],[6552.1,0.955],[6552.5,0.93],[6552.9,0.93],[6553.1,0.61],[6553.3,0.92],[6553.7,0.935],[6554.1,0.915],[6554.3,0.78],[6554.5,0.92],[6554.9,0.905],[6555.3,0.92],[6555.7,0.89],[6556.1,0.9],[6556.5,0.875],[6556.9,0.885],[6557.3,0.86],[6557.6,0.67],[6557.8,0.86],[6558.2,0.85],[6558.6,0.835],[6559.0,0.825],[6559.4,0.815],[6559.8,0.79],[6560.2,0.795],[6560.6,0.765],[6561.0,0.76],[6561.4,0.73],[6561.8,0.66],[6562.0,0.69],[6562.4,0.625],[6562.8,0.53],[6563.1,0.445],[6563.4,0.37],[6563.7,0.415],[6564.0,0.49],[6564.3,0.57],[6564.7,0.52],[6564.9,0.64],[6565.2,0.68],[6565.6,0.7],[6566,0.715],[6566.4,0.72],[6566.8,0.735],[6567.2,0.745],[6567.6,0.76],[6568,0.77],[6568.4,0.785],[6568.8,0.79],[6569.2,0.805],[6569.6,0.81],[6570,0.82],[6570.4,0.83],[6570.8,0.835],[6571.2,0.85],[6571.6,0.855],[6572,0.865],[6572.3,0.85],[6572.45,0.73],[6572.6,0.86],[6573,0.88],[6573.4,0.885],[6573.8,0.905],[6574.2,0.9],[6574.6,0.92],[6575.0,0.915],[6575.2,0.63],[6575.4,0.92],[6575.8,0.935],[6576.2,0.94],[6576.6,0.95],[6577,0.945],[6577.4,0.965],[6577.82,0.955]];
const ha4Blue = [[6547.92,0.968],[6549,0.958],[6550,0.953],[6551,0.948],[6552,0.938],[6553,0.933],[6554,0.923],[6555,0.91],[6556,0.893],[6557,0.876],[6558,0.858],[6559,0.833],[6560,0.798],[6560.7,0.773],[6561.3,0.743],[6562,0.698],[6562.4,0.638],[6562.8,0.538],[6563.1,0.448],[6563.4,0.373],[6563.7,0.418],[6564.0,0.498],[6564.3,0.578],[6564.7,0.648],[6565.2,0.698],[6566,0.723],[6567,0.748],[6568,0.778],[6569,0.803],[6570,0.828],[6571,0.848],[6572,0.868],[6573,0.888],[6574,0.908],[6575,0.923],[6576,0.938],[6577,0.953],[6577.82,0.958]];
const ha4Green = [[6547.92,0.97],[6548.8,0.962],[6549.0,0.88],[6549.2,0.958],[6550,0.955],[6551,0.95],[6552,0.94],[6552.9,0.935],[6553.05,0.86],[6553.2,0.932],[6554,0.925],[6555,0.912],[6556,0.895],[6557,0.878],[6557.5,0.868],[6557.65,0.84],[6557.8,0.864],[6558,0.86],[6559,0.835],[6560,0.80],[6560.7,0.775],[6561.3,0.745],[6562,0.70],[6562.4,0.64],[6562.8,0.54],[6563.1,0.45],[6563.4,0.375],[6563.7,0.42],[6564.0,0.50],[6564.3,0.58],[6564.7,0.65],[6565.2,0.70],[6566,0.725],[6567,0.75],[6568,0.78],[6569,0.805],[6570,0.83],[6571,0.85],[6572,0.87],[6572.35,0.875],[6572.5,0.85],[6572.65,0.878],[6573,0.89],[6574,0.91],[6575,0.925],[6575.15,0.925],[6575.25,0.88],[6575.35,0.928],[6576,0.94],[6577,0.955],[6577.82,0.96]];

const C = { blue: "#1f77b4", orange: "#ff7f0e", green: "#2ca02c", pink: "#e377c2", brown: "#8c564b" };

const heSeries = [
  [[he1Blue, C.blue], [he1Orange, C.orange], [he1Green, C.green], [he1Brown, C.brown], [he1Pink, C.pink]],
  [[he2Blue, C.blue], [he2Green, C.green], [he2Pink, C.pink], [he2Orange, C.orange], [he2Brown, C.brown]],
  [[he3Blue, C.blue]],
  [[he4Orange, C.orange], [he4Blue, C.blue], [he4Green, C.green]]
];
const haSeries = [
  [[ha1Blue, C.blue], [ha1Orange, C.orange], [ha1Green, C.green], [ha1Brown, C.brown], [ha1Pink, C.pink]],
  [[ha2Blue, C.blue], [ha2Pink, C.pink], [ha2Orange, C.orange], [ha2Green, C.green], [ha2Brown, C.brown]],
  [[ha3Blue, C.blue]],
  [[ha4Orange, C.orange], [ha4Blue, C.blue], [ha4Green, C.green]]
];

// ---------------- layout ----------------
const rowTop = [13, 210, 407, 604], rowH = 132;
const colPer = [63, 576], colHe = [678, 883], colHa = [986, 1191];
const perY = [[0, 6.24], [0, 5.95], [0, 5.21], [0, 1.13]];
const perYMajor = [[0, 2.5, 5], [0, 2, 4], [0, 2, 4], [0, 0.5, 1]];
const perYStep = [0.5, 0.5, 0.5, 0.1];
const perYFmt = [".1f", "d", "d", ".1f"];
const heY = [[0.45, 1.124], [0.438, 1.12], [0.592, 1.12], [0.724, 1.152]];
const heYMajor = [[0.6, 0.8, 1.0], [0.6, 0.8, 1.0], [0.6, 0.8, 1.0], [0.8, 1.0]];
const haY = [[0.524, 1.167], [0.497, 1.247], [0.282, 1.074], [0.257, 1.115]];
const haYMajor = [[0.6, 0.8, 1.0], [0.6, 0.8, 1.0, 1.2], [0.4, 0.6, 0.8, 1.0], [0.4, 0.6, 0.8, 1.0]];

const svg = d3.select("body").append("svg").attr("width", 1200).attr("height", 788);

function minorTicks(dom, step, majors) {
  const out = [];
  const s = Math.ceil(dom[0] / step - 1e-9), e = Math.floor(dom[1] / step + 1e-9);
  for (let k = s; k <= e; k++) {
    const v = +(k * step).toFixed(6);
    if (!majors.some(m => Math.abs(m - v) < 1e-6)) out.push(v);
  }
  return out;
}

let clipId = 0;
function panel(cols, top, xDom, yDom) {
  const w = cols[1] - cols[0], h = rowH;
  const g = svg.append("g").attr("transform", `translate(${cols[0] + 0.5},${top + 0.5})`);
  const id = "clip" + (clipId++);
  g.append("clipPath").attr("id", id).append("rect").attr("width", w).attr("height", h);
  const x = d3.scaleLinear(xDom, [0, w]);
  const y = d3.scaleLinear(yDom, [h, 0]);
  const plot = g.append("g").attr("clip-path", `url(#${id})`);
  return { g, plot, x, y, w, h };
}

function frame(p, o) {
  const { g, x, y, w, h } = p;
  const add = (axis, tr) => g.append("g").attr("transform", tr).call(axis).call(s => s.select(".domain").remove());
  const xMinor = minorTicks(x.domain(), o.xStep, o.xMajor);
  const yMinor = minorTicks(y.domain(), o.yStep, o.yMajor);
  add(d3.axisBottom(x).tickValues(o.xMajor).tickSize(5).tickPadding(5).tickFormat(d3.format(o.xFmt)), `translate(0,${h})`);
  add(d3.axisBottom(x).tickValues(xMinor).tickSize(3).tickFormat(""), `translate(0,${h})`);
  add(d3.axisTop(x).tickValues(o.xMajor).tickSize(5).tickFormat(""), "translate(0,0)");
  add(d3.axisTop(x).tickValues(xMinor).tickSize(3).tickFormat(""), "translate(0,0)");
  add(d3.axisLeft(y).tickValues(o.yMajor).tickSize(5).tickPadding(4).tickFormat(d3.format(o.yFmt)), "translate(0,0)");
  add(d3.axisLeft(y).tickValues(yMinor).tickSize(3).tickFormat(""), "translate(0,0)");
  add(d3.axisRight(y).tickValues(o.yMajor).tickSize(5).tickFormat(""), `translate(${w},0)`);
  add(d3.axisRight(y).tickValues(yMinor).tickSize(3).tickFormat(""), `translate(${w},0)`);
  g.append("rect").attr("width", w).attr("height", h)
    .attr("fill", "none").attr("stroke", "#000").attr("stroke-width", 1);
}

function xLabel(p, parts) {
  const t = p.g.append("text").attr("x", p.w / 2).attr("y", p.h + 45).attr("text-anchor", "middle");
  parts(t);
}

const perLine = d3.line().x(d => d[0]).y(d => d[1]).curve(d3.curveMonotoneX);
const specLine = d3.line().x(d => d[0]).y(d => d[1]);

const pgData = [[pg53138, tail53138, 1.02], [pg51309, tail51309, 2.0], [pg27563, tail27563, 1.325], [pg53244, tail53244, 1.15]];

for (let r = 0; r < 4; r++) {
  const top = rowTop[r];

  // ---- periodogram ----
  const p = panel(colPer, top, [0, 4], perY[r]);
  p.plot.append("rect")
    .attr("x", p.x(0.008)).attr("y", 0)
    .attr("width", p.x(shadeEnd[r]) - p.x(0.008)).attr("height", p.h)
    .attr("fill", "#d3d3d3");
  const [main, tail, t0] = pgData[r];
  const pts = main.concat(tail.map((a, i) => [t0 + i * 0.025, a])).filter(d => d[0] <= 4.0);
  p.plot.append("path")
    .attr("d", perLine(pts.map(d => [p.x(d[0]), p.y(d[1])])))
    .attr("fill", "none").attr("stroke", "#000").attr("stroke-width", 0.9);
  p.plot.append("line")
    .attr("x1", p.x(peakFreq[r])).attr("x2", p.x(peakFreq[r]))
    .attr("y1", p.y(0)).attr("y2", p.y(markAmp[r]))
    .attr("stroke", "#e8382c").attr("stroke-width", 1.2).attr("stroke-dasharray", "5,2,1.5,2");
  if (r === 1) {
    p.g.append("path")
      .attr("d", d3.symbol(d3.symbolCross, 120)())
      .attr("transform", `translate(${p.x(peakFreq[r])},${p.y(markAmp[r])}) rotate(45)`)
      .attr("fill", "#238b23");
  } else {
    p.g.append("path")
      .attr("d", d3.symbol(d3.symbolTriangle, 58)())
      .attr("transform", `translate(${p.x(peakFreq[r])},${p.y(markAmp[r])}) rotate(180)`)
      .attr("fill", "#2f7fc1");
  }
  frame(p, { xMajor: d3.range(0, 4.01, 0.5), xStep: 0.1, xFmt: ".1f", yMajor: perYMajor[r], yStep: perYStep[r], yFmt: perYFmt[r] });

  p.g.append("text").attr("x", 10).attr("y", 19).text(stars[r]);
  const vt = p.g.append("text").attr("x", p.w - 3).attr("y", 19).attr("text-anchor", "end")
    .attr("font-weight", "bold").style("font-size", "18.5px");
  vt.append("tspan").attr("font-style", "italic").text("v");
  vt.append("tspan").text(" sin ");
  vt.append("tspan").attr("font-style", "italic").text("i");
  vt.append("tspan").text(`=${vsini[r]} km s`);
  vt.append("tspan").attr("dy", -7).style("font-size", "13px").text("\u22121");
  p.g.append("text").attr("x", 326).attr("y", 39).text(spTypes[r]);

  xLabel(p, t => {
    t.append("tspan").text("Freq. (d");
    t.append("tspan").attr("dy", -7).style("font-size", "12px").text("\u22121");
    t.append("tspan").attr("dy", 7).text(")");
  });
  p.g.append("text")
    .attr("transform", `translate(${16 - colPer[0]},${p.h / 2}) rotate(-90)`)
    .attr("text-anchor", "middle").text("Amp. (mmag)");

  // ---- HeI 5875 ----
  const h = panel(colHe, top, [5869.62, 5882.59], heY[r]);
  heSeries[r].forEach(([d, c]) => {
    h.plot.append("path")
      .attr("d", specLine(d.map(v => [h.x(v[0]), h.y(v[1])])))
      .attr("fill", "none").attr("stroke", c).attr("stroke-width", 1);
  });
  frame(h, { xMajor: [5870, 5880], xStep: 2, xFmt: "d", yMajor: heYMajor[r], yStep: 0.1, yFmt: ".1f" });
  h.g.append("text").attr("x", 10).attr("y", h.h - 7).text("HeI5875");
  xLabel(h, t => {
    t.append("tspan").attr("font-style", "italic").text("\u03bb");
    t.append("tspan").attr("font-weight", "bold").text(" (A)");
  });
  h.g.append("text")
    .attr("transform", `translate(${630 - colHe[0]},${h.h / 2}) rotate(-90)`)
    .attr("text-anchor", "middle").text("Norm. flux");

  // ---- H alpha ----
  const a = panel(colHa, top, [6547.92, 6577.82], haY[r]);
  haSeries[r].forEach(([d, c]) => {
    a.plot.append("path")
      .attr("d", specLine(d.map(v => [a.x(v[0]), a.y(v[1])])))
      .attr("fill", "none").attr("stroke", c).attr("stroke-width", 1);
  });
  frame(a, { xMajor: [6550, 6560, 6570], xStep: 2, xFmt: "d", yMajor: haYMajor[r], yStep: 0.1, yFmt: ".1f" });
  const ht = a.g.append("text").attr("x", 10).attr("y", a.h - 7);
  ht.append("tspan").text("H");
  ht.append("tspan").attr("font-style", "italic").text("\u03b1");
  xLabel(a, t => {
    t.append("tspan").attr("font-style", "italic").text("\u03bb");
    t.append("tspan").attr("font-weight", "bold").text(" (A)");
  });
}
</script>
</body>
</html>
